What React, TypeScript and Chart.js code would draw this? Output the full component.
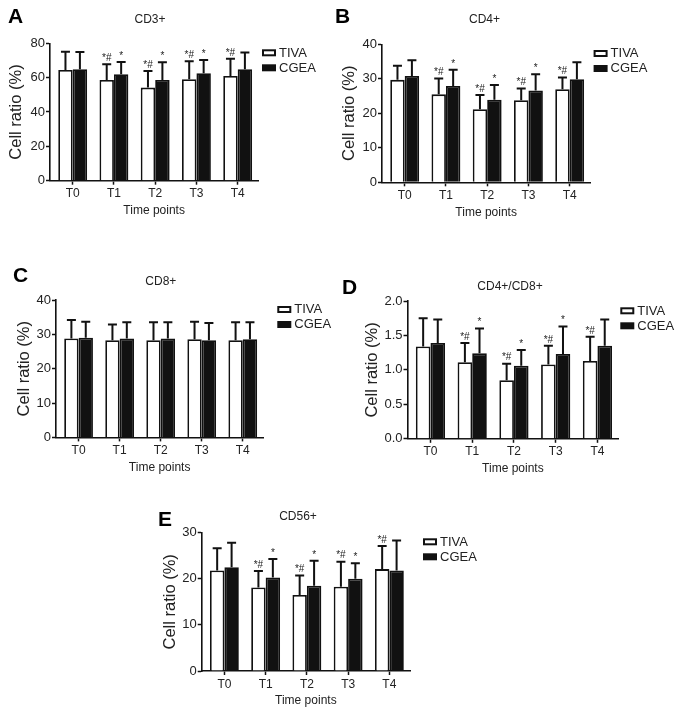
import React, { useEffect, useRef } from 'react';
import { Chart, registerables } from 'chart.js';

Chart.register(...registerables);

const FONT = '"Liberation Sans", Arial, Helvetica, sans-serif';

const timePoints = ['T0', 'T1', 'T2', 'T3', 'T4'];
const seriesNames = ['TIVA', 'CGEA'];

// CD3+
const cd3Tiva = [64.5, 58.7, 54.2, 59.1, 61.0];
const cd3TivaSd = [10.6, 9.1, 9.7, 10.4, 10.0];
const cd3Cgea = [64.9, 62.0, 58.7, 62.6, 64.9];
const cd3CgeaSd = [10.1, 7.1, 10.3, 7.7, 9.7];

// CD4+
const cd4Tiva = [29.7, 25.5, 21.2, 23.8, 27.0];
const cd4TivaSd = [4.1, 4.6, 4.1, 3.4, 3.4];
const cd4Cgea = [30.8, 27.9, 23.9, 26.6, 29.9];
const cd4CgeaSd = [4.6, 4.7, 4.3, 4.7, 4.9];

// CD8+
const cd8Tiva = [28.8, 28.3, 28.3, 28.6, 28.3];
const cd8TivaSd = [5.4, 4.6, 5.2, 5.1, 5.2];
const cd8Cgea = [29.0, 28.8, 28.8, 28.3, 28.6];
const cd8CgeaSd = [4.7, 4.7, 4.7, 5.0, 4.9];

// CD4+/CD8+
const ratioTiva = [1.34, 1.11, 0.85, 1.08, 1.13];
const ratioTivaSd = [0.41, 0.28, 0.24, 0.27, 0.35];
const ratioCgea = [1.39, 1.24, 1.06, 1.23, 1.35];
const ratioCgeaSd = [0.34, 0.36, 0.23, 0.40, 0.38];

// CD56+
const cd56Tiva = [21.8, 18.1, 16.5, 18.3, 22.1];
const cd56TivaSd = [4.8, 3.6, 4.2, 5.4, 5.0];
const cd56Cgea = [22.5, 20.3, 18.5, 20.0, 21.8];
const cd56CgeaSd = [5.3, 4.0, 5.4, 3.4, 6.5];

// significance marks
const marksTiva = ['', '*#', '*#', '*#', '*#'];
const marksCgea = ['', '*', '*', '*', ''];
const noMarks = ['', '', '', '', ''];

const yMaxA = 80, yStepA = 20;
const yMaxB = 40, yStepB = 10;
const yMaxC = 40, yStepC = 10;
const yMaxD = 2.0, yStepD = 0.5;
const yMaxE = 30, yStepE = 10;

const YW = 45;
const XH = 40;

type PanelDef = {
  letter: string; title: string;
  tiva: number[]; tivaSd: number[]; cgea: number[]; cgeaSd: number[];
  mT: string[]; mC: string[];
  yMax: number; yStep: number; dec: number;
  box: { x: number; y: number; w: number; h: number };
  area: { l: number; t: number; r: number; b: number };
  titleX: number; titleY: number; letterX: number; letterY: number;
  legDx: number; legDy: number; yGap: number;
};

const panels: PanelDef[] = [
  {
    letter: 'A', title: 'CD3+', tiva: cd3Tiva, tivaSd: cd3TivaSd, cgea: cd3Cgea, cgeaSd: cd3CgeaSd,
    mT: marksTiva, mC: marksCgea, yMax: yMaxA, yStep: yStepA, dec: 0,
    box: { x: 0, y: 0, w: 341, h: 225 }, area: { l: 50, t: 43.3, r: 258.3, b: 180.7 },
    titleX: 150, titleY: 20, letterX: 15.7, letterY: 17.5, legDx: 3.7, legDy: 6, yGap: 33.5,
  },
  {
    letter: 'B', title: 'CD4+', tiva: cd4Tiva, tivaSd: cd4TivaSd, cgea: cd4Cgea, cgeaSd: cd4CgeaSd,
    mT: marksTiva, mC: marksCgea, yMax: yMaxB, yStep: yStepB, dec: 0,
    box: { x: 330, y: 0, w: 352, h: 225 }, area: { l: 382, t: 44.3, r: 590.3, b: 182.3 },
    titleX: 484.5, titleY: 19.5, letterX: 342.5, letterY: 17.5, legDx: 3.3, legDy: 5.7, yGap: 32.5,
  },
  {
    letter: 'C', title: 'CD8+', tiva: cd8Tiva, tivaSd: cd8TivaSd, cgea: cd8Cgea, cgeaSd: cd8CgeaSd,
    mT: noMarks, mC: noMarks, yMax: yMaxC, yStep: yStepC, dec: 0,
    box: { x: 0, y: 240, w: 341, h: 238 }, area: { l: 56, t: 300, r: 263.3, b: 437.4 },
    titleX: 160.8, titleY: 282, letterX: 20.5, letterY: 276.5, legDx: 14, legDy: 6, yGap: 32,
  },
  {
    letter: 'D', title: 'CD4+/CD8+', tiva: ratioTiva, tivaSd: ratioTivaSd, cgea: ratioCgea, cgeaSd: ratioCgeaSd,
    mT: marksTiva, mC: marksCgea, yMax: yMaxD, yStep: yStepD, dec: 1,
    box: { x: 335, y: 240, w: 347, h: 240 }, area: { l: 407.5, t: 301, r: 618.3, b: 438.8 },
    titleX: 510, titleY: 287, letterX: 349.5, letterY: 288, legDx: 2, legDy: 6.3, yGap: 35,
  },
  {
    letter: 'E', title: 'CD56+', tiva: cd56Tiva, tivaSd: cd56TivaSd, cgea: cd56Cgea, cgeaSd: cd56CgeaSd,
    mT: marksTiva, mC: marksCgea, yMax: yMaxE, yStep: yStepE, dec: 0,
    box: { x: 140, y: 490, w: 390, h: 227 }, area: { l: 201.7, t: 532.7, r: 410, b: 671 },
    titleX: 298, titleY: 517, letterX: 165, letterY: 520.5, legDx: 13, legDy: 5.6, yGap: 31,
  },
];

function Panel({ p }: { p: PanelDef }) {
  const ref = useRef<HTMLCanvasElement | null>(null);

  useEffect(() => {
    const canvas = ref.current;
    if (!canvas) return;
    const { box, area } = p;
    const padLeft = area.l - box.x - YW;
    const padTop = area.t - box.y;
    const padRight = box.x + box.w - area.r;
    const padBottom = box.y + box.h - (area.b + XH);
    const yTitleSize = 16.5;
    const yTitlePad = YW - p.yGap - (yTitleSize * 1.2) / 2;

    const means = [p.tiva, p.cgea];
    const sds = [p.tivaSd, p.cgeaSd];
    const marks = [p.mT, p.mC];

    const decor = {
      id: 'decor',
      afterDatasetsDraw(chart: any) {
        const ctx = chart.ctx;
        const ys = chart.scales.y;
        ctx.save();
        ctx.strokeStyle = '#111';
        ctx.fillStyle = '#222';
        ctx.lineWidth = 2;
        for (let di = 0; di < 2; di++) {
          const meta = chart.getDatasetMeta(di);
          meta.data.forEach((bar: any, i: number) => {
            const top = ys.getPixelForValue(means[di][i] + sds[di][i]);
            const x = bar.x;
            ctx.beginPath();
            ctx.moveTo(x, bar.y);
            ctx.lineTo(x, top);
            ctx.moveTo(x - 4.5, top);
            ctx.lineTo(x + 4.5, top);
            ctx.stroke();
            const m = marks[di][i];
            if (m) {
              ctx.font = `10px ${FONT}`;
              ctx.textAlign = 'center';
              ctx.textBaseline = 'bottom';
              ctx.fillText(m, x, top - 1);
            }
          });
        }
        ctx.restore();
      },
      afterDraw(chart: any) {
        const ctx = chart.ctx;
        const ca = chart.chartArea;
        ctx.save();
        ctx.fillStyle = '#000';
        ctx.textAlign = 'center';
        ctx.textBaseline = 'middle';
        ctx.font = `bold 21px ${FONT}`;
        ctx.fillText(p.letter, p.letterX - box.x, p.letterY - box.y);
        ctx.fillStyle = '#222';
        ctx.font = `12px ${FONT}`;
        ctx.fillText(p.title, p.titleX - box.x, p.titleY - box.y);
        // legend
        const lx = ca.right + p.legDx;
        const ly = ca.top + p.legDy;
        ctx.lineWidth = 2;
        ctx.strokeStyle = '#111';
        ctx.fillStyle = '#fff';
        ctx.fillRect(lx, ly, 14, 7);
        ctx.strokeRect(lx + 1, ly + 1, 12, 5);
        ctx.fillStyle = '#111';
        ctx.fillRect(lx, ly + 15, 14, 7);
        ctx.fillStyle = '#222';
        ctx.textAlign = 'left';
        ctx.font = `13px ${FONT}`;
        ctx.fillText(seriesNames[0], lx + 17, ly + 3.8);
        ctx.fillText(seriesNames[1], lx + 17, ly + 18.8);
        ctx.restore();
      },
    };

    const axisGrid = {
      display: true,
      drawOnChartArea: false,
      drawTicks: true,
      tickLength: 4,
      tickWidth: 1.5,
      color: '#111',
      offset: false,
    };
    const axisBorder = { display: true, color: '#111', width: 1.6 };

    const chart = new Chart(canvas, {
      type: 'bar',
      data: {
        datasets: [
          {
            label: seriesNames[0],
            data: p.tiva.map((v, i) => ({ x: i, y: v })),
            backgroundColor: '#fff',
            borderColor: '#111',
            borderWidth: 1.8,
          },
          {
            label: seriesNames[1],
            data: p.cgea.map((v, i) => ({ x: i, y: v })),
            backgroundColor: '#111',
            borderColor: '#111',
            borderWidth: 1.8,
          },
        ],
      },
      options: {
        animation: false,
        responsive: false,
        maintainAspectRatio: false,
        layout: { padding: { left: padLeft, top: padTop, right: padRight, bottom: padBottom } },
        datasets: { bar: { barPercentage: 1, categoryPercentage: 0.7 } },
        plugins: { legend: { display: false }, title: { display: false }, tooltip: { enabled: false } },
        scales: {
          x: {
            type: 'linear',
            min: -0.55,
            max: 4.5,
            offset: false,
            z: 1,
            afterFit: (s: any) => { s.height = XH; },
            afterBuildTicks: (s: any) => { s.ticks = timePoints.map((_, i) => ({ value: i })); },
            grid: axisGrid,
            border: axisBorder,
            ticks: {
              callback: (v: any) => timePoints[v] ?? '',
              font: { family: FONT, size: 12 },
              color: '#222',
              padding: 2,
              maxRotation: 0,
              autoSkip: false,
            },
            title: {
              display: true,
              text: 'Time points',
              font: { family: FONT, size: 12 },
              color: '#222',
              padding: { top: 0, bottom: 2.8 },
            },
          },
          y: {
            min: 0,
            max: p.yMax,
            z: 1,
            afterFit: (s: any) => { s.width = YW; },
            grid: axisGrid,
            border: axisBorder,
            ticks: {
              stepSize: p.yStep,
              callback: (v: any) => Number(v).toFixed(p.dec),
              font: { family: FONT, size: 13 },
              color: '#222',
              padding: 1,
            },
            title: {
              display: true,
              text: 'Cell ratio (%)',
              font: { family: FONT, size: yTitleSize },
              color: '#222',
              padding: { top: yTitlePad, bottom: 0 },
            },
          },
        },
      } as any,
      plugins: [decor],
    });
    return () => chart.destroy();
  }, [p]);

  return (
    <canvas
      ref={ref}
      width={p.box.w}
      height={p.box.h}
      style={{ position: 'absolute', left: p.box.x, top: p.box.y, width: p.box.w, height: p.box.h }}
    />
  );
}

export default function App() {
  return (
    <div style={{ position: 'absolute', left: 0, top: 0, width: 682, height: 717, background: '#fff', overflow: 'hidden' }}>
      {panels.map((p) => (
        <Panel key={p.letter} p={p} />
      ))}
    </div>
  );
}
